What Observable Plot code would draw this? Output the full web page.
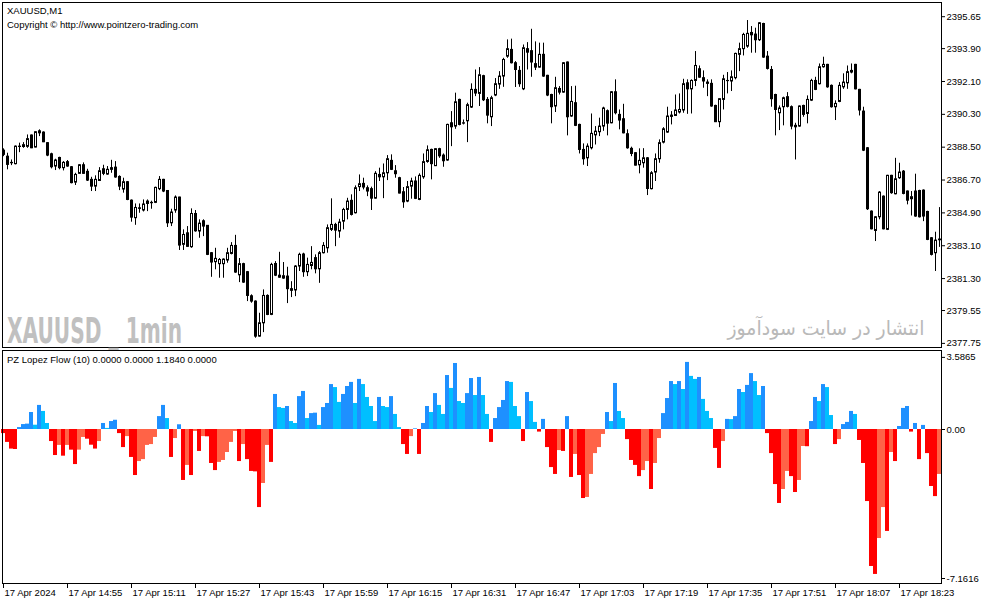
<!DOCTYPE html>
<html><head><meta charset="utf-8">
<script src="https://cdn.jsdelivr.net/npm/d3@7"></script>
<script src="https://cdn.jsdelivr.net/npm/@observablehq/plot@0.6"></script>
<style>
body{margin:0;background:#fff}
#chart{position:relative;width:987px;height:605px;overflow:hidden;font-family:"Liberation Sans",Arial,sans-serif}
#chart svg.plot{position:absolute;left:0;display:block}
</style>
</head><body><div id="chart"></div>
<script>
const open = [2388.31,2387.98,2387.64,2387.57,2388.53,2388.51,2388.52,2389.14,2388.48,2389.37,
2389.30,2388.72,2388.11,2387.44,2387.91,2387.35,2387.68,2387.40,2386.56,2387.04,
2387.51,2387.15,2386.71,2386.34,2386.65,2387.29,2387.00,2387.35,2387.38,2386.87,
2386.18,2386.58,2385.57,2384.61,2385.15,2385.03,2385.52,2385.45,2385.45,2386.20,
2386.71,2386.10,2384.33,2385.03,2385.74,2383.15,2383.78,2383.02,2384.84,2383.88,
2384.44,2384.19,2382.69,2382.20,2382.09,2382.09,2382.29,2382.65,2383.09,2381.48,
2382.09,2381.65,2380.33,2380.04,2378.12,2378.85,2380.35,2379.31,2382.10,2381.46,
2381.30,2381.41,2380.72,2380.65,2381.96,2382.62,2381.65,2381.99,2382.42,2381.81,
2382.69,2382.96,2383.97,2384.24,2383.88,2384.42,2385.06,2385.56,2384.88,2386.31,
2386.49,2386.25,2386.20,2385.68,2386.98,2386.85,2387.07,2387.75,2387.18,2386.80,
2386.03,2385.52,2386.34,2386.62,2385.61,2386.85,2387.69,2388.35,2387.46,2388.39,
2388.04,2387.77,2389.81,2389.63,2391.09,2389.79,2389.92,2390.67,2391.64,2391.42,
2392.39,2391.09,2390.14,2391.33,2391.93,2392.37,2393.46,2393.83,2393.10,2392.68,
2391.67,2393.87,2393.76,2393.05,2392.86,2393.56,2392.41,2391.36,2390.73,2391.69,
2391.49,2393.14,2390.18,2390.91,2389.72,2388.35,2387.89,2388.44,2389.15,2389.32,
2389.63,2390.47,2389.81,2391.51,2390.27,2390.03,2389.21,2388.41,2388.17,2387.51,
2387.62,2387.89,2386.20,2387.11,2387.84,2388.75,2389.30,2390.23,2390.21,2390.40,
2390.51,2392.00,2391.67,2392.13,2392.77,2392.28,2392.04,2391.97,2390.76,2389.87,
2391.09,2392.12,2392.10,2392.28,2393.56,2393.87,2394.01,2394.76,2394.67,2394.36,
2395.25,2393.46,2392.73,2391.36,2390.36,2390.69,2391.24,2390.69,2389.67,2389.63,
2390.76,2390.32,2391.05,2392.13,2391.95,2392.88,2393.01,2391.86,2390.69,2390.98,
2391.78,2392.00,2392.59,2393.01,2391.64,2390.45,2388.44,2384.97,2383.91,2384.66,
2385.79,2383.97,2386.93,2385.92,2386.80,2387.16,2386.07,2385.65,2386.07,2386.10,
2386.12,2384.95,2383.51,2382.69,2383.40];
const high = [2388.41,2388.17,2387.80,2388.57,2388.72,2388.75,2389.17,2389.17,2389.34,2389.45,
2389.34,2388.75,2388.17,2387.84,2387.95,2387.71,2387.77,2387.44,2387.07,2387.55,
2387.64,2387.29,2386.85,2386.93,2387.38,2387.51,2387.44,2387.78,2387.71,2386.93,
2386.80,2386.62,2385.61,2385.39,2385.39,2385.61,2385.61,2385.54,2386.31,2386.89,
2386.74,2386.12,2385.10,2385.83,2385.76,2383.97,2384.15,2385.12,2385.03,2384.52,
2384.52,2384.20,2382.73,2382.96,2382.40,2382.38,2382.96,2383.27,2383.67,2382.40,
2382.14,2381.69,2380.41,2380.08,2379.40,2380.68,2380.41,2382.14,2382.23,2382.74,
2382.18,2381.92,2381.13,2382.01,2382.69,2382.69,2382.42,2383.05,2382.60,2382.78,
2383.27,2384.24,2385.67,2384.33,2384.55,2385.15,2385.70,2385.89,2386.38,2386.98,
2386.80,2386.38,2386.31,2387.16,2387.35,2387.58,2388.04,2388.08,2387.49,2386.85,
2386.29,2386.62,2386.80,2386.87,2387.04,2388.13,2388.57,2388.39,2388.42,2388.44,
2388.13,2389.76,2390.45,2391.46,2391.13,2389.99,2390.91,2391.97,2392.73,2392.86,
2392.44,2391.22,2391.29,2392.26,2392.64,2393.37,2394.38,2394.42,2393.19,2392.92,
2394.10,2394.23,2394.96,2394.27,2394.20,2394.20,2392.44,2391.40,2392.33,2391.82,
2393.14,2393.17,2391.82,2391.84,2389.76,2388.68,2388.68,2390.32,2389.63,2390.09,
2390.69,2390.54,2391.55,2392.19,2390.54,2390.85,2389.45,2388.50,2388.20,2388.41,
2388.42,2387.93,2387.16,2388.13,2388.90,2389.57,2390.69,2390.45,2391.36,2391.42,
2392.22,2392.19,2392.19,2393.74,2392.95,2392.68,2392.19,2392.19,2390.80,2391.16,
2392.44,2392.59,2392.68,2393.65,2394.20,2394.74,2395.44,2395.11,2395.02,2395.33,
2395.29,2393.74,2392.92,2391.40,2390.76,2391.24,2391.49,2390.76,2389.81,2390.76,
2390.80,2391.31,2392.22,2392.33,2393.06,2393.43,2393.04,2391.91,2391.04,2392.04,
2392.52,2392.95,2393.06,2393.04,2391.67,2390.69,2388.48,2385.01,2384.70,2386.07,
2385.83,2386.96,2386.96,2387.89,2387.62,2387.22,2386.10,2386.07,2387.02,2386.14,
2386.16,2384.99,2383.55,2383.84,2385.19];
const low = [2387.98,2387.26,2387.49,2387.53,2388.20,2388.44,2388.44,2388.42,2388.46,2389.08,
2388.75,2387.98,2387.31,2387.22,2387.26,2387.20,2387.40,2386.49,2386.40,2387.02,
2387.02,2386.62,2386.07,2386.07,2386.62,2386.94,2386.96,2387.07,2386.80,2386.12,
2385.98,2385.57,2384.39,2384.22,2384.88,2384.95,2384.97,2385.10,2385.41,2386.12,
2386.01,2384.10,2384.15,2384.88,2382.84,2382.84,2383.02,2382.96,2383.84,2383.51,
2383.60,2382.56,2381.37,2381.78,2381.32,2381.32,2382.14,2382.60,2381.59,2381.08,
2381.04,2380.04,2379.95,2378.03,2378.09,2378.34,2379.27,2379.27,2381.41,2381.32,
2381.26,2379.93,2380.26,2380.31,2381.69,2381.37,2381.41,2381.78,2381.56,2381.04,
2382.65,2382.69,2383.88,2383.05,2383.51,2383.97,2384.52,2384.73,2384.84,2386.07,
2386.16,2385.79,2385.03,2385.65,2386.62,2385.68,2386.67,2387.22,2386.80,2385.94,
2385.15,2385.46,2385.65,2385.63,2385.57,2386.74,2387.62,2386.71,2387.44,2387.89,
2387.40,2387.73,2388.53,2389.48,2389.67,2389.72,2388.75,2390.62,2391.27,2390.73,
2391.00,2389.78,2389.63,2391.27,2391.67,2391.78,2393.37,2393.06,2391.77,2391.78,
2391.60,2392.73,2392.33,2392.70,2392.83,2392.33,2391.27,2389.78,2390.40,2391.36,
2391.46,2389.12,2390.14,2389.63,2388.13,2387.51,2387.44,2388.35,2388.62,2389.08,
2389.37,2389.12,2389.78,2390.27,2389.45,2389.23,2388.39,2387.98,2387.47,2387.04,
2387.35,2385.85,2386.16,2386.62,2387.62,2388.68,2389.26,2389.72,2390.18,2390.32,
2390.36,2390.30,2390.32,2391.82,2392.28,2391.73,2391.27,2390.69,2389.85,2389.57,
2390.54,2391.42,2391.55,2392.19,2392.64,2393.50,2393.92,2393.65,2393.65,2394.29,
2393.37,2392.73,2390.69,2389.12,2389.41,2389.67,2390.65,2389.45,2387.80,2389.59,
2390.14,2389.78,2391.00,2391.60,2391.91,2392.83,2391.73,2390.64,2389.96,2390.94,
2391.67,2391.67,2392.52,2391.64,2390.21,2388.26,2385.03,2383.97,2383.33,2384.52,
2383.97,2383.93,2385.92,2385.89,2386.74,2385.89,2385.34,2384.73,2384.66,2384.62,
2384.42,2383.38,2382.54,2381.69,2383.01];
const close = [2388.08,2387.53,2387.62,2388.53,2388.51,2388.61,2388.94,2388.44,2389.32,2389.26,
2388.77,2388.04,2387.40,2387.77,2387.35,2387.64,2387.44,2386.53,2386.98,2387.51,
2387.04,2386.67,2386.34,2386.71,2387.18,2387.04,2387.26,2387.26,2386.84,2386.34,
2386.58,2385.61,2384.64,2385.17,2385.12,2385.36,2385.39,2385.43,2386.27,2386.71,
2386.07,2384.33,2384.92,2385.74,2383.11,2383.69,2383.04,2384.84,2383.89,2384.31,
2384.15,2382.60,2382.18,2382.38,2382.32,2382.34,2382.69,2383.09,2381.63,2382.09,
2381.08,2380.35,2380.04,2378.12,2378.85,2380.35,2379.31,2382.05,2381.46,2381.35,
2381.43,2380.72,2380.63,2381.96,2382.60,2381.65,2382.05,2382.16,2381.81,2382.69,
2383.09,2384.06,2384.24,2383.93,2384.37,2385.06,2385.52,2384.79,2386.25,2386.47,
2386.29,2386.07,2385.68,2387.04,2386.85,2387.07,2387.84,2387.26,2387.02,2385.96,
2385.48,2386.31,2386.62,2385.67,2386.93,2387.68,2388.33,2387.57,2388.39,2388.00,
2387.73,2389.72,2389.59,2390.96,2389.72,2389.81,2390.80,2391.64,2391.44,2392.44,
2391.07,2390.23,2391.18,2391.95,2392.37,2393.28,2393.87,2393.10,2392.73,2391.95,
2393.92,2393.68,2393.14,2392.86,2393.56,2392.37,2391.33,2390.69,2391.73,2391.49,
2393.10,2390.14,2390.98,2389.67,2388.35,2387.84,2388.53,2389.23,2389.35,2389.63,
2390.62,2389.79,2391.51,2390.36,2389.96,2389.26,2388.44,2388.13,2387.49,2387.75,
2387.89,2386.21,2387.07,2387.84,2388.72,2389.48,2390.18,2390.16,2390.51,2390.54,
2391.95,2391.67,2392.13,2392.95,2392.31,2392.10,2391.97,2390.73,2389.87,2391.13,
2392.22,2392.13,2392.33,2393.61,2393.87,2394.65,2394.71,2394.63,2394.36,2395.29,
2393.41,2392.79,2391.13,2390.54,2390.62,2391.18,2390.71,2389.63,2389.59,2390.73,
2390.27,2391.09,2392.13,2391.64,2392.88,2393.01,2391.78,2390.69,2390.87,2391.86,
2392.04,2392.61,2392.68,2391.67,2390.51,2388.31,2385.10,2384.00,2384.66,2386.01,
2384.00,2386.93,2385.98,2386.74,2387.11,2385.94,2385.57,2385.76,2384.70,2384.66,
2384.70,2383.42,2382.60,2383.38,2383.44];
const flow = [-0.19,-0.60,-0.91,-0.93,0.09,0.23,0.25,0.79,0.20,1.12,
0.84,0.28,-0.56,-1.21,-0.74,-1.24,-0.74,-0.96,-1.63,-0.96,
-0.37,-0.45,-0.73,-0.91,-0.56,0.28,0.05,0.37,0.43,-0.19,
-0.84,-0.33,-1.30,-2.14,-1.49,-1.40,-0.74,-0.70,-0.37,0.60,
1.12,0.51,-1.30,-0.42,0.22,-2.37,-1.67,-2.14,-0.09,-1.02,
-0.33,-0.34,-1.58,-1.91,-1.53,-1.44,-1.07,-0.60,-0.09,-1.49,
-0.70,-1.40,-1.95,-1.97,-3.63,-2.51,-0.74,-1.53,1.63,1.02,
0.98,1.07,0.37,0.28,1.53,1.77,0.51,0.74,0.76,0.19,
1.02,1.21,2.09,1.95,1.26,1.63,2.00,2.19,1.21,2.33,
2.09,1.49,1.07,0.37,1.49,1.07,1.02,1.53,0.70,0.09,
-0.70,-1.16,-0.33,0.03,-1.16,0.28,1.07,0.79,1.67,1.12,
0.70,2.51,1.91,3.07,1.30,1.21,1.67,2.37,1.58,2.42,
1.58,0.70,-0.60,0.51,1.02,1.35,2.23,2.19,1.07,0.60,
-0.56,1.72,1.30,0.33,-0.12,0.47,-0.84,-1.77,-2.09,-0.98,
-1.02,0.60,-2.23,-1.16,-2.14,-3.21,-3.16,-2.09,-1.12,-0.84,
-0.23,0.79,0.37,2.14,0.84,0.51,-0.47,-1.44,-1.67,-2.19,
-1.91,-1.49,-2.79,-1.58,-0.42,0.74,1.44,2.23,2.09,2.23,
1.86,3.12,2.47,2.33,2.42,1.40,0.84,0.51,-0.88,-1.81,
-0.56,0.47,0.46,0.60,1.86,1.72,2.05,2.60,2.23,1.58,
2.00,-0.19,-1.12,-2.56,-3.44,-2.79,-1.95,-2.19,-2.93,-2.37,
-0.79,-0.80,0.37,1.49,1.30,2.09,1.95,0.65,-0.70,-0.47,
0.23,0.33,0.84,0.70,-0.51,-1.58,-3.35,-6.37,-6.74,-5.07,
-3.63,-4.74,-1.07,-1.49,0.14,0.98,1.07,-0.12,0.28,-1.40,
0.19,-1.12,-2.65,-3.12,-2.09];
const priceTicks = [2395.65, 2393.90, 2392.10, 2390.30, 2388.50, 2386.70, 2384.90, 2383.10, 2381.30, 2379.55, 2377.75];
const timeTicks = ["14:39","14:55","15:11","15:27","15:43","15:59","16:15","16:31","16:47","17:03","17:19","17:35","17:51","18:07","18:23"];
const dateLabel = "17 Apr 2024";
const flowMax = 3.5865, flowMin = -7.1616;

// one-minute bars starting at 14:39
const times = d3.range(open.length).map(k => {
  const m = 14 * 60 + 39 + k;
  return String(Math.floor(m / 60)).padStart(2, "0") + ":" + String(m % 60).padStart(2, "0");
});
const candles = times.map((t, i) => ({t, open: open[i], high: high[i], low: low[i], close: close[i]}));
const hist = times.map((t, i) => {
  const v = flow[i], p = i > 0 ? flow[i - 1] : 0;
  let c;
  if (v >= 0) c = v > p ? "#1E90FF" : "#00BFFF";
  else c = v < p ? "#FF0000" : "#FF6347";
  return {t, v, c};
});

const baseStyle = {fontFamily: "'Liberation Sans', Arial, sans-serif", fontSize: "9.5px", background: "transparent", color: "#000", overflow: "visible"};

const topPlot = Plot.plot({
  width: 987, height: 349,
  marginLeft: 1, marginRight: 46, marginTop: 2, marginBottom: 2,
  style: baseStyle,
  x: {type: "band", domain: times, padding: 0, axis: null, label: null},
  y: {domain: [2377.524, 2396.428], label: null},
  marks: [
    Plot.ruleX(candles, {x: "t", y1: "low", y2: "high", stroke: "#000", strokeWidth: 1}),
    Plot.barY(candles, {x: "t", y1: "open", y2: "close", insetLeft: 1.5, insetRight: 0.5,
      fill: d => d.close > d.open ? "#fff" : "#000", stroke: "#000", strokeWidth: 1}),
    Plot.axisY(priceTicks, {anchor: "right", label: null, tickSize: 3, tickPadding: 2, tickFormat: d => d.toFixed(2)}),
    Plot.frame({stroke: "#000", insetLeft: 1})
  ]
});
topPlot.style.top = "0px";

const fmtTime = t => t === timeTicks[0] ? dateLabel : "17 Apr " + t;
const lowPlot = Plot.plot({
  width: 987, height: 256,
  marginLeft: 1, marginRight: 46, marginTop: 1, marginBottom: 22,
  style: baseStyle,
  x: {type: "band", domain: times, padding: 0, label: null},
  y: {domain: [flowMin, 3.674], label: null},
  marks: [
    Plot.barY(hist, {x: "t", y: "v", fill: "c"}),
    Plot.axisY([flowMax], {anchor: "right", label: null, tickSize: 3, tickPadding: 2, dy: 5, tickFormat: d => d.toFixed(4)}),
    Plot.axisY([0], {anchor: "right", label: null, tickSize: 3, tickPadding: 2, tickFormat: d => d.toFixed(2)}),
    Plot.axisY([flowMin], {anchor: "right", label: null, tickSize: 3, tickPadding: 2, dy: -5, tickFormat: d => d.toFixed(4)}),
    Plot.axisX(timeTicks, {anchor: "bottom", label: null, tickSize: 5, tickFormat: () => ""}),
    Plot.axisX(timeTicks, {anchor: "bottom", label: null, tickSize: 0, tickPadding: 6, dx: 1, textAnchor: "start", tickFormat: fmtTime}),
    Plot.frame({stroke: "#000", insetLeft: 1})
  ]
});
lowPlot.style.top = "349px";

const chart = document.getElementById("chart");
chart.appendChild(topPlot);
chart.appendChild(lowPlot);

// chart header texts and watermarks
const ts = d3.select(topPlot);
ts.append("text").attr("x", 7).attr("y", 14).attr("text-anchor", "start").attr("font-size", "9.5px").attr("fill", "#000").text("XAUUSD,M1");
ts.append("text").attr("x", 7).attr("y", 27.5).attr("text-anchor", "start").attr("font-size", "9.5px").attr("fill", "#000").text("Copyright © http://www.pointzero-trading.com");
ts.append("text").attr("x", 7).attr("y", 343).attr("text-anchor", "start")
  .attr("font-family", "'Liberation Sans Narrow','DejaVu Sans Condensed','Liberation Sans',sans-serif")
  .attr("font-weight", "bold").attr("font-size", "36px").attr("fill", "#c0c0c0")
  .attr("textLength", 175).attr("lengthAdjust", "spacingAndGlyphs")
  .text("XAUUSD _ 1min");
ts.append("text").attr("x", 826).attr("y", 335).attr("text-anchor", "middle")
  .attr("font-family", "'DejaVu Sans',sans-serif").attr("font-size", "20px").attr("fill", "#b9b9b9")
  .attr("textLength", 197).attr("lengthAdjust", "spacingAndGlyphs")
  .text("انتشار در سایت سودآموز");
d3.select(lowPlot).append("text").attr("x", 7).attr("y", 14.2).attr("text-anchor", "start").attr("font-size", "9.5px").attr("fill", "#000")
  .text("PZ Lopez Flow (10) 0.0000 0.0000 1.1840 0.0000");
</script>
</body></html>
